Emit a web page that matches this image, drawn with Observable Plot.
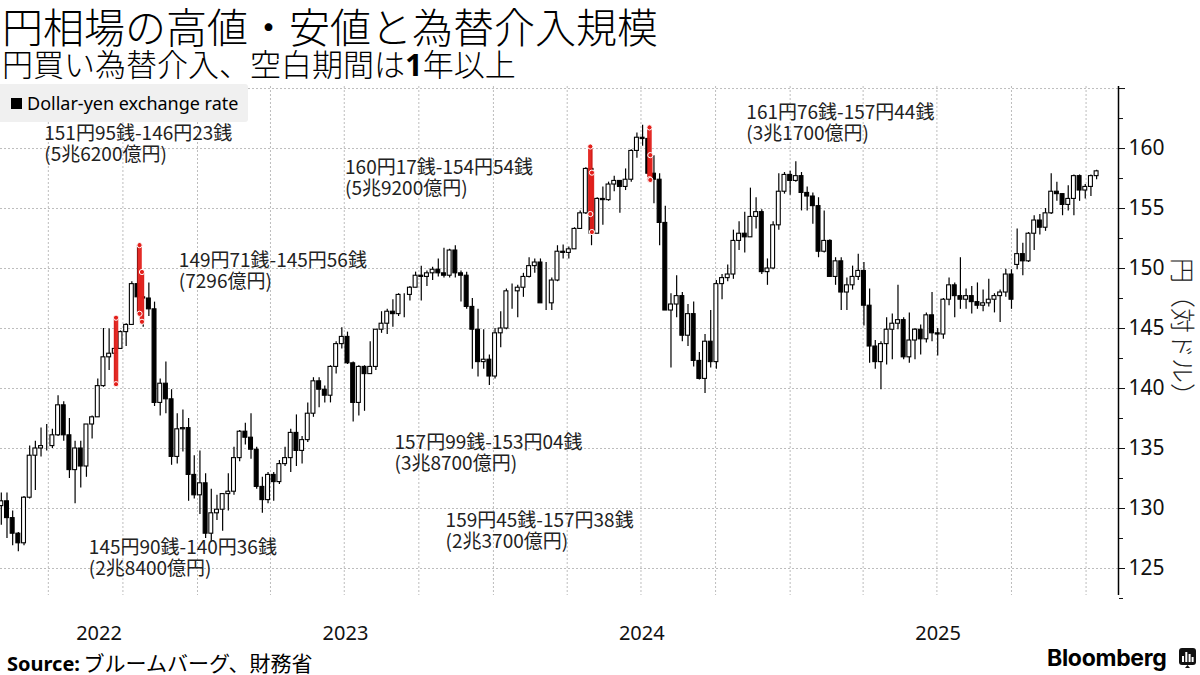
<!DOCTYPE html>
<html><head><meta charset="utf-8">
<script src="https://cdn.jsdelivr.net/npm/d3@7"></script>
<script src="https://cdn.jsdelivr.net/npm/@observablehq/plot@0.6"></script>
<style>
body{margin:0;width:1200px;height:675px;overflow:hidden;background:#fff;position:relative;font-family:"Noto Sans CJK JP","Noto Sans",sans-serif;color:#000;}
#title{position:absolute;left:2px;top:3px;font-size:41px;line-height:44px;height:44px;white-space:nowrap;font-weight:300;}
#subtitle{position:absolute;left:2px;top:47px;font-size:31px;line-height:32px;height:32px;white-space:nowrap;font-weight:300;}
#subtitle b{font-family:"Noto Sans","Open Sans",sans-serif;font-weight:700;}
#chart{position:absolute;left:0;top:80px;}
#legend{position:absolute;left:0;top:84px;width:248px;height:38px;background:#f0f0f0;border-radius:0 3px 3px 0;}
#legend .sw{position:absolute;left:11px;top:14px;width:11px;height:11px;background:#000;}
#legend .lt{position:absolute;left:27px;top:6px;font-family:"Noto Sans",sans-serif;font-size:18px;line-height:26px;white-space:nowrap;}
#ylabel{position:absolute;left:1104px;top:318px;width:160px;height:30px;line-height:30px;text-align:center;transform:rotate(90deg);font-size:25px;white-space:nowrap;color:#222;font-weight:300;}
#source{position:absolute;left:7px;top:648px;white-space:nowrap;line-height:28px;}
#source b{font-family:"Noto Sans",sans-serif;font-size:20px;font-weight:700;}
#source span{font-size:21px;}
#logo{position:absolute;left:1047px;top:644px;font-family:Inter,"Noto Sans",sans-serif;font-weight:700;font-size:23px;line-height:28px;letter-spacing:-0.3px;}
#icon{position:absolute;left:1179px;top:648px;}
</style></head>
<body>
<div id="title">円相場の高値・安値と為替介入規模</div>
<div id="subtitle">円買い為替介入、空白期間は<b>1</b>年以上</div>
<div id="chart"></div>
<div id="legend"><div class="sw"></div><div class="lt">Dollar-yen exchange rate</div></div>
<div id="ylabel">円（対ドル）</div>
<div id="source"><b>Source:</b> <span>ブルームバーグ、財務省</span></div>
<div id="logo">Bloomberg</div>
<svg id="icon" width="17" height="20" viewBox="0 0 17 20"><rect x="0" y="0" width="17" height="17" rx="3" fill="#111"/><path d="M8.5 17 L6 20 L11 20 Z" fill="#111"/><rect x="3" y="8" width="2" height="6" fill="#fff"/><rect x="6.3" y="4" width="2" height="10" fill="#fff"/><rect x="9.6" y="6" width="2" height="8" fill="#fff"/><rect x="12.6" y="9" width="2" height="5" fill="#fff"/></svg>
<script>
// Weekly USD/JPY candles [open, high, low, close], weeks starting Monday 2022-05-02
const weekly2022 = [
 [130.2,131.3,128.6,130.6],[130.6,131.3,127.5,129.2],[129.2,129.8,126.9,127.9],[127.9,128.0,126.4,127.1],
 [127.1,131.0,126.9,130.9],[130.9,135.2,130.8,134.4],[134.4,135.6,131.5,135.0],[135.0,136.7,134.3,135.2],
 [135.2,137.0,134.8,135.2],[135.2,136.6,135.0,136.1],[136.1,139.4,136.0,138.6],[138.6,138.9,135.6,136.1],
 [136.1,137.5,132.5,133.2],[133.2,135.6,130.4,135.0],[135.0,135.6,131.7,133.5],[133.5,137.0,132.6,137.0],
 [137.0,137.7,135.8,137.6],[137.6,140.8,137.6,140.2],[140.2,145.0,140.1,142.6],[142.6,144.96,141.5,142.9],
 [142.9,145.9,140.36,143.3],[143.3,144.8,143.3,144.7],[144.7,145.4,143.5,145.3],[145.3,148.9,145.3,148.7],
 [148.7,151.95,146.2,147.6],[147.6,149.7,145.1,147.5],[147.5,148.8,146.0,146.6],[146.6,147.2,138.5,138.8],
 [138.8,140.8,137.7,140.4],[140.4,142.2,137.9,139.1],[139.1,139.9,133.6,134.3],[134.3,137.9,133.7,136.6],
 [136.6,138.2,134.7,136.7],[136.7,137.5,130.6,132.8],[132.8,134.4,130.8,131.1]
];
const weekly2023 = [
 [131.1,134.8,129.5,132.1],[132.1,132.9,127.5,127.9],[127.9,131.6,127.2,129.6],[129.6,131.1,129.0,129.9],
 [129.9,131.2,128.1,131.2],[131.2,132.9,129.8,131.4],[131.4,135.1,131.1,134.2],[134.2,136.5,133.9,136.4],
 [136.4,137.1,135.3,135.9],[135.9,137.9,134.1,134.9],[134.9,135.1,131.6,131.8],[131.8,132.6,129.6,130.7],
 [130.7,133.0,130.4,132.8],[132.8,133.0,130.6,132.2],[132.2,134.0,132.0,133.7],[133.7,135.1,133.5,134.2],
 [134.2,136.6,133.0,136.3],[136.3,137.8,133.5,134.8],[134.8,136.0,133.7,135.7],[135.7,138.8,135.5,137.9],
 [137.9,140.9,137.6,140.6],[140.6,140.9,138.4,139.9],[139.9,140.2,138.8,139.4],[139.4,141.9,138.8,141.8],
 [141.8,143.9,141.2,143.7],[143.7,145.07,143.3,144.3],[144.3,144.7,142.0,142.1],[142.1,142.2,137.2,138.8],
 [138.8,141.9,137.7,141.8],[141.8,141.9,138.1,141.2],[141.2,143.9,141.5,141.8],[141.8,144.9,141.5,144.9],
 [144.9,146.4,144.6,145.4],[145.4,146.6,144.5,146.4],[146.4,147.4,145.1,146.2],[146.2,147.9,146.0,147.8],
 [147.8,147.9,145.9,147.8],[147.8,148.5,147.3,148.4],[148.4,149.7,148.4,149.4],[149.4,150.2,147.3,149.3],
 [149.3,149.8,148.5,149.6],[149.6,150.1,149.0,149.9],[149.9,150.8,149.3,149.6],[149.6,151.7,149.2,149.4],
 [149.4,151.6,149.2,151.5],[151.5,151.9,149.2,149.6],[149.6,149.8,147.2,149.4],[149.4,149.7,146.6,146.8],
 [146.8,147.5,141.6,144.9],[144.9,146.6,140.95,142.2],[142.2,144.9,141.6,142.4],[142.4,142.8,140.25,141.0]
];
const weekly2024 = [
 [141.0,145.0,140.8,144.6],[144.6,146.4,143.4,145.0],[145.0,148.3,144.9,148.1],[148.1,148.7,146.6,148.1],
 [148.1,148.6,145.9,148.4],[148.4,149.6,147.6,149.3],[149.3,150.9,149.2,150.2],[150.2,150.8,149.6,150.5],
 [150.5,150.8,149.2,147.1],[147.1,150.5,146.5,147.1],[147.1,149.2,146.5,149.0],[149.0,151.9,148.9,151.4],
 [151.4,151.97,150.8,151.3],[151.3,151.8,150.8,151.6],[151.6,153.4,151.6,153.3],[153.3,154.8,153.3,154.6],
 [154.6,158.4,154.5,158.3],[158.3,160.17,151.9,152.9],[152.9,155.9,152.9,155.8],[155.8,156.8,153.6,155.7],
 [155.7,157.2,155.6,157.0],[157.0,157.7,156.4,157.3],[157.3,157.3,154.6,156.8],[156.8,158.3,156.5,157.4],
 [157.4,159.9,157.2,159.8],[159.8,161.3,159.2,160.9],[160.9,161.95,160.2,160.8],[160.8,161.8,157.4,157.9],
 [157.9,159.4,155.4,157.4],[157.4,157.9,151.9,153.8],[153.8,155.2,146.5,146.5],[146.5,147.9,141.7,147.0],
 [147.0,149.4,145.9,147.7],[147.7,148.0,143.9,144.4],[144.4,147.0,143.5,146.2],[146.2,147.2,141.8,142.3],
 [142.3,143.0,140.7,140.8],[140.8,144.5,139.58,143.9],[143.9,146.5,141.7,142.2],[142.2,149.0,141.6,148.7],
 [148.7,149.5,147.4,149.2],[149.2,150.3,148.9,149.5],[149.5,153.2,149.1,152.3],[152.3,153.9,151.5,152.9],
 [152.9,154.7,151.3,152.6],[152.6,156.7,152.6,154.3],[154.3,155.9,153.3,154.7],[154.7,154.9,149.5,149.7],
 [149.7,150.8,148.6,150.0],[150.0,153.9,149.9,153.6],[153.6,157.9,153.2,156.4],[156.4,158.0,156.2,157.8],
 [157.8,158.1,156.1,157.3]
];
const weekly2025 = [
 [157.3,158.9,157.2,157.7],[157.7,158.0,154.8,156.3],[156.3,156.8,154.8,156.0],[156.0,156.3,153.7,155.2],
 [155.2,155.9,150.9,151.4],[151.4,154.8,151.3,152.3],[152.3,152.4,149.3,149.3],[149.3,150.9,148.6,150.6],
 [150.6,150.9,146.5,148.0],[148.0,149.2,146.5,148.6],[148.6,150.2,148.2,149.3],[149.3,151.2,149.0,149.8],
 [149.8,150.5,145.2,146.9],[146.9,148.3,142.1,143.5],[143.5,144.0,141.6,142.2],[142.2,143.9,139.89,143.7],
 [143.7,145.9,141.97,144.9],[144.9,146.2,142.4,145.4],[145.4,148.6,144.9,145.7],[145.7,145.9,142.4,142.6],
 [142.6,146.3,142.1,144.0],[144.0,145.0,142.4,144.9],[144.9,145.3,142.8,144.1],[144.1,146.3,143.8,146.1],
 [146.1,148.0,143.9,144.6],[144.6,145.0,142.7,144.5],[144.5,147.5,144.1,147.4],[147.4,149.2,146.9,148.6],
 [148.6,148.8,145.9,147.7],[147.7,150.9,146.6,147.4],[147.4,148.3,146.6,147.7],[147.7,148.5,146.2,147.2],
 [147.2,148.8,146.6,146.9],[146.9,148.2,146.4,147.1],[147.1,149.1,146.8,147.4],[147.4,147.9,146.3,147.7],
 [147.7,148.2,145.5,148.0],[148.0,149.95,147.6,149.5],[149.5,149.9,146.6,147.4],[150.3,153.3,149.9,151.2],
 [151.2,152.1,149.4,150.6],[150.6,153.0,150.5,152.9],[152.9,154.4,151.5,154.0],[154.0,154.5,152.8,153.4],
 [153.4,155.0,153.1,154.6],[154.6,157.9,154.5,156.4],[156.4,157.2,155.6,156.2],[156.2,156.2,154.4,155.3],
 [155.3,156.9,154.8,155.8],[155.8,157.8,154.4,157.7],[157.7,157.8,155.6,156.5],[156.5,157.0,155.8,156.8]
];
const weekly2026 = [
 [156.8,157.8,156.0,157.7],[157.7,158.2,157.4,158.1]
];

// Intervention days (yen-buying), high / low of the day and amount
const interventionDates = ["2022-09-22","2022-10-21","2022-10-24","2024-04-29","2024-05-01","2024-07-11","2024-07-12"];
const interventionHigh = [145.90,151.95,149.71,160.17,157.99,161.76,159.45];
const interventionLow  = [140.36,146.23,145.56,154.54,153.04,157.44,157.38];
const interventionAmount = ["2兆8400億円","5兆6200億円","7296億円","5兆9200億円","3兆8700億円","3兆1700億円","2兆3700億円"];

// Axis ticks
const yTicks = [125,130,135,140,145,150,155,160,165];
const yMinorTicks = [122.5,127.5,132.5,137.5,142.5,147.5,152.5,157.5,162.5];
const yearLabels = [2022,2023,2024,2025];

// ---- layout (not data) ----
const xDomain = [new Date(Date.UTC(2022,4,3)), new Date(Date.UTC(2026,1,10))];
const yDomain = [122.75,165.17];
const labelAnchorDates = ["2022-08-20","2022-06-26","2022-12-09","2023-07-02","2023-09-01","2024-11-08","2023-11-03"];
const labelAnchorValues = [125.92,160.42,149.83,157.58,134.67,162.17,128.17];

const allWeeks = [...weekly2022,...weekly2023,...weekly2024,...weekly2025,...weekly2026];
const mondays = d3.utcMonday.range(new Date(Date.UTC(2022,4,2)), new Date(Date.UTC(2026,0,13)));
const candles = allWeeks.map(([o,h,l,c],i)=>({date:mondays[i],open:o,high:h,low:l,close:c}));
const up = candles.filter(d=>d.close>=d.open);
const down = candles.filter(d=>d.close<d.open);

const fmtYen = v => { const y = Math.floor(v+1e-9); const s = Math.round((v-y)*100); return `${y}円${String(s).padStart(2,"0")}銭`; };
const interv = interventionDates.map((d,i)=>({date:new Date(d+"T12:00:00Z"),high:interventionHigh[i],low:interventionLow[i],
  text:`${fmtYen(interventionHigh[i])}-${fmtYen(interventionLow[i])}\n(${interventionAmount[i]})`,
  lx:new Date(labelAnchorDates[i]+"T00:00:00Z"), ly:labelAnchorValues[i]}));
const intervPts = interv.flatMap(d=>[{date:d.date,v:d.high},{date:d.date,v:d.low}]);

const quarters = d3.utcMonth.every(3).range(xDomain[0], xDomain[1]);
const yearPos = yearLabels.map(y=>{
  const s = Math.max(+xDomain[0], Date.UTC(y,0,1)), e = Math.min(+xDomain[1], Date.UTC(y+1,0,1));
  return {date:new Date((s+e)/2), label:String(y)};
});

const red = "#e3201b";
const bodyX1 = d => d3.utcHour.offset(d.date,-10);
const bodyX2 = d => d3.utcHour.offset(d.date,106);
const chart = Plot.plot({
  width:1200, height:560,
  marginLeft:0, marginRight:82, marginTop:6, marginBottom:45,
  x:{type:"utc", domain:xDomain, axis:null},
  y:{domain:yDomain},
  style:{fontFamily:'"Noto Sans",sans-serif', fontSize:"21px", color:"#111", overflow:"visible", background:"transparent"},
  marks:[
    Plot.gridY(yTicks,{stroke:"#bdbdbd",strokeOpacity:1,strokeDasharray:"2,2"}),
    Plot.gridX(quarters,{stroke:"#bdbdbd",strokeOpacity:1,strokeDasharray:"2,2"}),
    Plot.ruleX(candles,{x:d=>d3.utcHour.offset(d.date,48),y1:"low",y2:"high",stroke:"#000",strokeWidth:1.2}),
    Plot.rect(up,{x1:bodyX1,x2:bodyX2,y1:"open",y2:"close",fill:"#fff",stroke:"#000",strokeWidth:1.1}),
    Plot.rect(down,{x1:bodyX1,x2:bodyX2,y1:"close",y2:"open",fill:"#000",stroke:"#000",strokeWidth:1.1}),
    Plot.ruleX(interv,{x:"date",y1:"low",y2:"high",stroke:red,strokeWidth:4.5,strokeOpacity:0.95}),
    Plot.dot(intervPts,{x:"date",y:"v",r:2.6,fill:red,stroke:"#fff",strokeWidth:1}),
    Plot.ruleX([xDomain[1]],{stroke:"#000",strokeWidth:1.5}),
    Plot.axisY(yTicks,{anchor:"right",tickSize:6,tickPadding:4,tickFormat:d=>d===165?"":String(d),fontSize:21}),
    Plot.axisY(yMinorTicks,{anchor:"right",tickSize:4,tickFormat:()=>""}),
    Plot.text(yearPos,{x:"date",text:"label",frameAnchor:"bottom",dy:44,fontSize:20,fill:"#111"}),
    Plot.text(interv,{x:"lx",y:"ly",text:"text",textAnchor:"start",lineAnchor:"middle",lineHeight:1.1,
      fontSize:19,fill:"#222",fontFamily:'"Noto Sans CJK JP",sans-serif'})
  ]
});
document.getElementById("chart").appendChild(chart);
</script>
</body></html>
